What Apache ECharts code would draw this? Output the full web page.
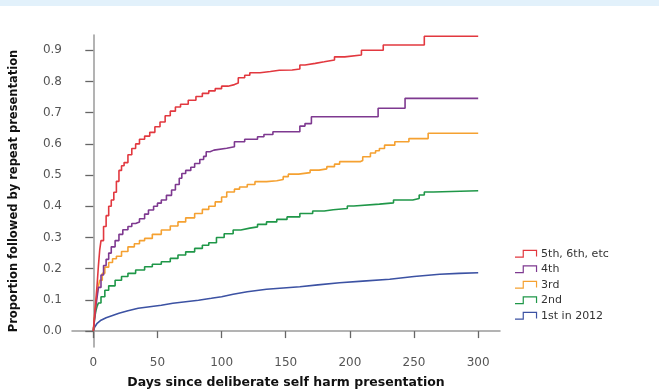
<!DOCTYPE html>
<html>
<head>
<meta charset="utf-8">
<script src="https://cdn.jsdelivr.net/npm/echarts@6/dist/echarts.min.js"></script>
<style>
html,body{margin:0;padding:0;background:#fff;}
#c{width:659px;height:390px;}
</style>
</head>
<body>
<div id="c"></div>
<script>
// ---- data ----
const seriesNames = ['5th, 6th, etc', '4th', '3rd', '2nd', '1st in 2012'];

const redDays = [0,1,2,3,4,5,6,8,10,12,14,16,18,20,22,24,27,30,33,36,40,44,48,52,56,60,64,68,74,80,85,90,95,100,105,110,113,118,122,130,138,145,155,161,165,173,180,188,196,209,226,258,300];
const redVals = [0,0.05,0.10,0.15,0.21,0.26,0.29,0.335,0.37,0.40,0.42,0.445,0.48,0.515,0.53,0.54,0.565,0.585,0.60,0.615,0.625,0.637,0.655,0.67,0.69,0.705,0.718,0.727,0.74,0.752,0.762,0.77,0.777,0.785,0.79,0.795,0.812,0.82,0.828,0.832,0.836,0.837,0.84,0.853,0.858,0.863,0.869,0.879,0.885,0.90,0.917,0.945,0.945];

const purpleDays = [0,1,2,3,4,6,8,10,12,14,17,20,23,27,30,33,36,40,43,47,50,53,57,61,64,67,69,72,76,79,83,86,88,91,94,104,110,118,128,133,140,161,165,170,222,243,300];
const purpleVals = [0,0.04,0.08,0.11,0.14,0.18,0.21,0.23,0.25,0.27,0.29,0.31,0.325,0.335,0.345,0.35,0.36,0.375,0.388,0.40,0.41,0.42,0.435,0.452,0.47,0.49,0.505,0.515,0.525,0.537,0.55,0.56,0.575,0.58,0.586,0.591,0.607,0.615,0.623,0.63,0.639,0.657,0.665,0.687,0.714,0.746,0.746];

const orangeDays = [0,1,2,3,4,5,7,9,12,15,18,22,27,32,36,40,46,53,60,66,72,79,85,90,95,100,104,110,114,120,126,135,143,148,152,160,169,176,182,188,192,208,210,216,220,223,227,235,246,261,300];
const orangeVals = [0,0.05,0.09,0.12,0.145,0.163,0.185,0.205,0.22,0.232,0.24,0.255,0.27,0.28,0.29,0.297,0.31,0.324,0.337,0.35,0.363,0.377,0.39,0.40,0.414,0.43,0.446,0.455,0.462,0.47,0.479,0.482,0.486,0.495,0.503,0.508,0.516,0.52,0.527,0.535,0.543,0.547,0.559,0.571,0.578,0.585,0.596,0.607,0.617,0.634,0.634];

const greenDays = [0,1,2,3,4,6,9,12,17,22,27,33,40,46,53,60,66,72,79,85,90,96,102,109,115,122,128,135,143,151,161,171,180,187,198,203,223,234,249,254,258,265,300];
const greenVals = [0,0.04,0.065,0.08,0.09,0.11,0.131,0.145,0.163,0.175,0.185,0.196,0.206,0.214,0.222,0.233,0.244,0.254,0.265,0.275,0.283,0.30,0.312,0.324,0.33,0.334,0.342,0.35,0.358,0.366,0.377,0.385,0.389,0.393,0.401,0.407,0.411,0.42,0.425,0.436,0.446,0.45,0.45];

const blueDays = [0,1,3,6,10,15,20,27,35,44,53,62,72,82,92,100,109,120,135,148,161,175,192,210,231,250,270,285,300];
const blueVals = [0,0.012,0.025,0.035,0.043,0.05,0.057,0.065,0.073,0.078,0.083,0.089,0.094,0.099,0.105,0.11,0.118,0.126,0.134,0.138,0.142,0.148,0.155,0.16,0.166,0.175,0.182,0.185,0.187];

const xTicks = [0,50,100,150,200,250,300];
const yTicks = [0,0.1,0.2,0.3,0.4,0.5,0.6,0.7,0.8,0.9];

const colors = ['#e2383f', '#7e3990', '#f5a131', '#1f9748', '#3c52a3'];

function pairs(d, v){ return d.map((x,i)=>[x, v[i]]); }
const allData = [
  pairs(redDays, redVals),
  pairs(purpleDays, purpleVals),
  pairs(orangeDays, orangeVals),
  pairs(greenDays, greenVals),
  pairs(blueDays, blueVals)
];

// step-shaped legend glyph (outline drawn as a thin filled polygon)
const stepIcon = 'path://M0,8 L9,8 L9,0 L26,0 L26,8 L24.6,8 L24.6,1.4 L10.4,1.4 L10.4,9.4 L0,9.4 Z';

const chart = echarts.init(document.getElementById('c'), null, {renderer:'canvas'});
chart.setOption({
  animation: false,
  backgroundColor: '#ffffff',
  color: colors,
  graphic: [{
    type: 'rect', left: 0, top: 0, z: -1,
    shape: {width: 659, height: 6},
    style: {fill: '#e2f1fb'}
  }],
  grid: {left: 72, right: 159, top: 35, bottom: 43, containLabel: false, outerBoundsMode: 'none'},
  legend: {
    orient: 'vertical',
    left: 510, top: 242,
    itemWidth: 26, itemHeight: 8, itemGap: 2,
    icon: stepIcon,
    textStyle: {fontFamily: 'DejaVu Sans', fontSize: 11, lineHeight: 13.5, color: '#333', padding: [0,0,0,-3]},
    data: seriesNames
  },
  xAxis: {
    type: 'value', min: -16.6, max: 317,
    name: 'Days since deliberate self harm presentation',
    nameLocation: 'middle', nameGap: 29,
    nameTextStyle: {fontFamily: 'DejaVu Sans', fontWeight: 'bold', fontSize: 12.5, color: '#111'},
    axisLine: {show: true, lineStyle: {color: '#9a9a9a', width: 1.5}},
    axisTick: {show: true, length: 7, customValues: xTicks, lineStyle: {color: '#666', width: 1.3}},
    axisLabel: {customValues: xTicks, margin: 10, fontFamily: 'DejaVu Sans', fontSize: 12, color: '#555'},
    splitLine: {show: false}
  },
  yAxis: {
    type: 'value', min: -0.051, max: 0.949,
    name: 'Proportion followed by repeat presentation',
    nameLocation: 'middle', nameGap: 52, nameRotate: 90,
    nameTextStyle: {fontFamily: 'DejaVu Sans', fontWeight: 'bold', fontSize: 11.5, color: '#111'},
    axisLine: {show: true, lineStyle: {color: '#9a9a9a', width: 1.5}},
    axisTick: {show: true, length: 8, customValues: yTicks, lineStyle: {color: '#666', width: 1.3}},
    axisLabel: {customValues: yTicks, margin: 10, fontFamily: 'DejaVu Sans', fontSize: 12, color: '#555',
      formatter: v => v.toFixed(1)},
    splitLine: {show: false}
  },
  series: allData.map((d, i) => ({
    name: seriesNames[i],
    type: 'line',
    data: d,
    step: i === 4 ? false : 'end',
    smooth: false,
    showSymbol: false,
    symbol: 'none',
    lineStyle: {width: 1.6, color: colors[i]},
    z: 5 - i
  }))
});
</script>
</body>
</html>
